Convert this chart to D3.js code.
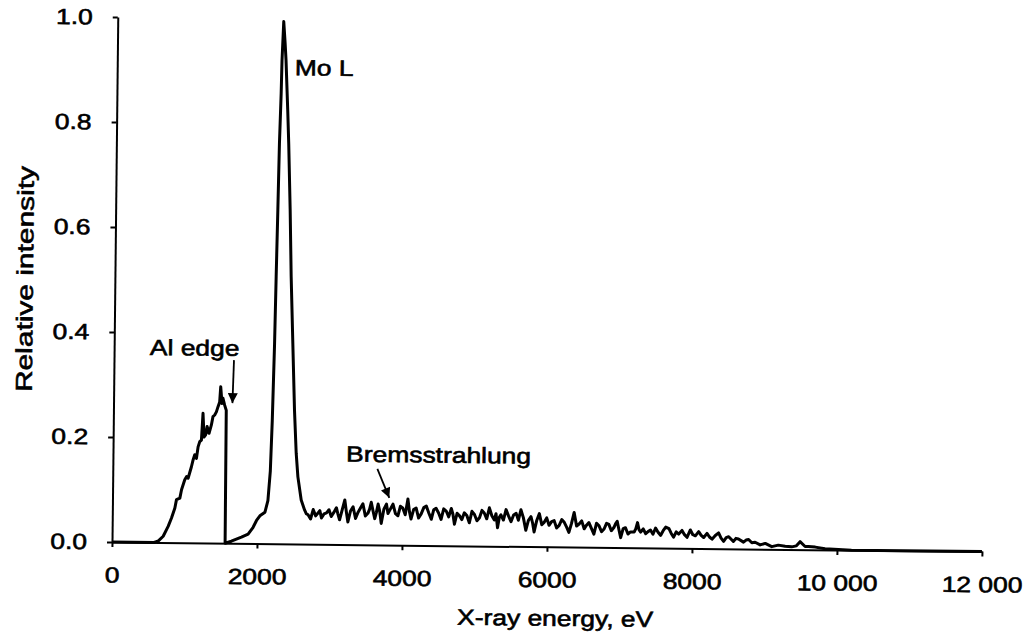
<!DOCTYPE html>
<html>
<head>
<meta charset="utf-8">
<script src="https://cdn.jsdelivr.net/npm/d3@7.9.0/dist/d3.min.js"></script>
<style>
  html, body { margin: 0; padding: 0; background: #fff; }
  svg { display: block; }
  text { font-family: "Liberation Sans", Arial, sans-serif; fill: #000; }
</style>
</head>
<body>
<svg id="chart"></svg>
<script>
// spectrum (eV, relative intensity)
const energy = [
  0, 580, 640, 705, 772, 817, 862, 883, 929, 951, 994, 1018, 1040, 1084, 1106, 1128, 1152, 1173, 1195, 1218,
  1236, 1253, 1276, 1294, 1322, 1353, 1374, 1397, 1420, 1442, 1464, 1476, 1496, 1509, 1533, 1556, 1560,
  1646, 1784, 1876, 1944, 1990, 2036, 2105, 2144, 2173, 2192, 2212, 2224, 2237, 2249, 2265, 2272, 2290,
  2312, 2327, 2358, 2377, 2407, 2431, 2464, 2497, 2527, 2554, 2603, 2651,
  2675, 2700, 2735, 2770, 2805, 2840, 2862, 2885, 2920, 2955, 2988, 3020, 3055, 3090, 3112, 3135, 3170,
  3205, 3228, 3250, 3285, 3320, 3355, 3390, 3422, 3455, 3490, 3525, 3548, 3570, 3595, 3620, 3642, 3665,
  3688, 3710, 3745, 3780, 3802, 3825, 3848, 3870, 3905, 3940, 3972, 4005, 4040, 4075, 4098, 4120, 4155,
  4190, 4225, 4260, 4295, 4330, 4365, 4400, 4432, 4465, 4500, 4535, 4570, 4605, 4640, 4675, 4698, 4720,
  4755, 4790, 4822, 4855, 4890, 4925, 4960, 4995, 5030, 5065, 5098, 5130, 5165, 5200, 5235, 5270, 5292,
  5315, 5338, 5360, 5395, 5430, 5465, 5500, 5535, 5570, 5602, 5635, 5670, 5705, 5740, 5775, 5798, 5820,
  5855, 5890, 5925, 5960, 5992, 6025, 6060, 6095, 6130, 6165, 6200, 6235, 6268, 6300, 6335, 6370, 6405,
  6440, 6475, 6510, 6542, 6575, 6610, 6645, 6680, 6715, 6750, 6785, 6818, 6850, 6885, 6920, 6942, 6965,
  6990, 7015, 7048, 7080, 7115, 7150, 7200, 7222, 7245, 7268, 7290, 7325, 7360, 7392, 7425, 7460, 7495,
  7530, 7565, 7600, 7635, 7680, 7712, 7745, 7780, 7815, 7860, 7895, 7930, 7975, 8010, 8045, 8090, 8125,
  8160, 8205, 8240, 8275, 8320, 8365, 8400, 8435, 8470, 8505, 8570, 8605, 8640, 8710, 8745, 8780, 8825,
  8870, 8940, 9010, 9100, 9190, 9285, 9375, 9440, 9490, 9560, 9605, 9700, 9835, 10020, 10200, 12000
];
const intensity = [
  0, 0, 0.003, 0.012, 0.031, 0.047, 0.066, 0.082, 0.085, 0.101, 0.12, 0.126, 0.123, 0.145, 0.158, 0.168, 0.161, 0.183, 0.193, 0.196,
  0.247, 0.202, 0.206, 0.222, 0.209, 0.225, 0.241, 0.244, 0.25, 0.26, 0.269, 0.298, 0.266, 0.276, 0.263, 0.253, 0,
  0.004, 0.012, 0.018, 0.031, 0.044, 0.053, 0.06, 0.082, 0.139, 0.234, 0.38, 0.509, 0.636, 0.763, 0.857, 0.921, 0.995,
  0.954, 0.922, 0.827, 0.763, 0.636, 0.509, 0.382, 0.255, 0.173, 0.128, 0.084, 0.065,
  0.058, 0.056, 0.048, 0.066, 0.054, 0.06, 0.064, 0.05, 0.058, 0.06, 0.066, 0.053, 0.061, 0.07, 0.058, 0.047, 0.066,
  0.085, 0.062, 0.043, 0.064, 0.072, 0.05, 0.062, 0.07, 0.078, 0.055, 0.06, 0.068, 0.081, 0.065, 0.05, 0.062, 0.078,
  0.064, 0.041, 0.068, 0.078, 0.06, 0.066, 0.072, 0.078, 0.06, 0.056, 0.074, 0.071, 0.058, 0.088, 0.064, 0.05, 0.068,
  0.071, 0.052, 0.06, 0.072, 0.075, 0.062, 0.05, 0.068, 0.071, 0.062, 0.05, 0.07, 0.066, 0.055, 0.071, 0.06, 0.041,
  0.062, 0.057, 0.05, 0.063, 0.058, 0.044, 0.066, 0.06, 0.048, 0.054, 0.068, 0.063, 0.052, 0.073, 0.058, 0.05, 0.062,
  0.035, 0.055, 0.06, 0.05, 0.07, 0.058, 0.047, 0.06, 0.063, 0.05, 0.07, 0.055, 0.031, 0.05, 0.057, 0.045, 0.028,
  0.05, 0.063, 0.042, 0.047, 0.055, 0.041, 0.048, 0.05, 0.036, 0.041, 0.052, 0.047, 0.038, 0.028, 0.045, 0.066, 0.04,
  0.044, 0.05, 0.035, 0.042, 0.047, 0.036, 0.025, 0.046, 0.041, 0.03, 0.035, 0.046, 0.044, 0.032, 0.038, 0.045, 0.05,
  0.034, 0.019, 0.036, 0.038, 0.026, 0.03, 0.03, 0.036, 0.048, 0.034, 0.03, 0.036, 0.027, 0.031, 0.034, 0.026, 0.038,
  0.03, 0.024, 0.033, 0.04, 0.037, 0.028, 0.021, 0.031, 0.027, 0.034, 0.026, 0.021, 0.035, 0.026, 0.024, 0.032, 0.025,
  0.021, 0.029, 0.022, 0.018, 0.025, 0.03, 0.02, 0.014, 0.021, 0.023, 0.014, 0.02, 0.019, 0.013, 0.017, 0.018, 0.012,
  0.013, 0.008, 0.011, 0.005, 0.008, 0.006, 0.005, 0.007, 0.015, 0.006, 0.006, 0.005, 0.002, 0.001, 0, 0
];

const xTicks = [0, 2000, 4000, 6000, 8000, 10000, 12000];
const xTickLabels = ["0", "2000", "4000", "6000", "8000", "10 000", "12 000"];
const yTicks = [0, 0.2, 0.4, 0.6, 0.8, 1.0];

const labels = [
  { text: "Mo L", e: 2449, v: 0.893 },
  { text: "Al edge", e: 494, v: 0.357 },
  { text: "Bremsstrahlung", e: 3217, v: 0.158 }
];
const arrows = [
  { e0: 1655, v0: 0.349, e1: 1640, v1: 0.267 },
  { e0: 3649, v0: 0.145, e1: 3818, v1: 0.090 }
];

const width = 1031;
const height = 635;
const margin = { top: 17, right: 49, bottom: 93, left: 112 };
const tilt = 0.63; // the scan is slightly rotated

const svg = d3.select("#chart")
    .attr("width", width)
    .attr("height", height)
    .attr("viewBox", `0 0 ${width} ${height}`);

const x = d3.scaleLinear().domain([0, 12000]).range([margin.left, width - margin.right]);
const y = d3.scaleLinear().domain([0, 1]).range([height - margin.bottom, margin.top]);

const g = svg.append("g")
    .attr("transform", `rotate(${tilt},${margin.left},${height - margin.bottom})`);

// axes
const xAxis = g.append("g")
    .attr("transform", `translate(0,${height - margin.bottom})`)
    .call(d3.axisBottom(x)
        .tickValues(xTicks)
        .tickFormat((d, i) => xTickLabels[i])
        .tickSize(5)
        .tickSizeOuter(0)
        .tickPadding(20));

const yAxis = g.append("g")
    .attr("transform", `translate(${margin.left},0)`)
    .call(d3.axisLeft(y)
        .tickValues(yTicks)
        .tickFormat(d3.format(".1f"))
        .tickSize(5)
        .tickSizeOuter(0)
        .tickPadding(20));

[xAxis, yAxis].forEach(a => {
    a.select(".domain").attr("stroke", "#000").attr("stroke-width", 2);
    a.selectAll(".tick line").attr("stroke", "#000").attr("stroke-width", 2);
    a.selectAll(".tick text")
        .attr("font-size", 22)
        .attr("font-family", "Liberation Sans, Arial, sans-serif")
        .attr("fill", "#000");
});

// spectrum
const pts = energy.map((e, i) => [e, intensity[i]]);
g.append("path")
    .datum(pts)
    .attr("fill", "none")
    .attr("stroke", "#000")
    .attr("stroke-width", 3)
    .attr("stroke-linejoin", "round")
    .attr("d", d3.line().x(d => x(d[0])).y(d => y(d[1])));

// annotations
svg.append("defs").append("marker")
    .attr("id", "head")
    .attr("viewBox", "0 0 10 10")
    .attr("refX", 10)
    .attr("refY", 5)
    .attr("markerWidth", 11)
    .attr("markerHeight", 10)
    .attr("markerUnits", "userSpaceOnUse")
    .attr("orient", "auto")
    .append("path")
    .attr("d", "M0,0L10,5L0,10Z")
    .attr("fill", "#000");

g.selectAll(".arrow").data(arrows)
    .join("line")
    .attr("class", "arrow")
    .attr("x1", d => x(d.e0))
    .attr("y1", d => y(d.v0))
    .attr("x2", d => x(d.e1))
    .attr("y2", d => y(d.v1))
    .attr("stroke", "#000")
    .attr("stroke-width", 1.8)
    .attr("marker-end", "url(#head)");

g.selectAll(".note").data(labels)
    .join("text")
    .attr("class", "note")
    .attr("x", d => x(d.e))
    .attr("y", d => y(d.v))
    .attr("font-size", 22)
    .text(d => d.text);

// axis titles
g.append("text")
    .attr("class", "title")
    .attr("x", 556)
    .attr("y", 621)
    .attr("text-anchor", "middle")
    .attr("font-size", 22)
    .text("X-ray energy, eV");

g.append("text")
    .attr("class", "ytitle")
    .attr("transform", `translate(30,280) rotate(-90)`)
    .attr("text-anchor", "middle")
    .attr("font-size", 23)
    .text("Relative intensity");

// the scan is stretched a little: widen the text to match
const stretch = 1.2;
g.selectAll(".tick text, .note, .title, .ytitle").each(function () {
    const w = this.getComputedTextLength();
    const k = this.classList.contains("ytitle") ? 1.3 : stretch;
    d3.select(this)
        .attr("textLength", w * k)
        .attr("lengthAdjust", "spacingAndGlyphs");
});
g.selectAll("text").attr("stroke", "#000").attr("stroke-width", 0.6);
</script>
</body>
</html>
